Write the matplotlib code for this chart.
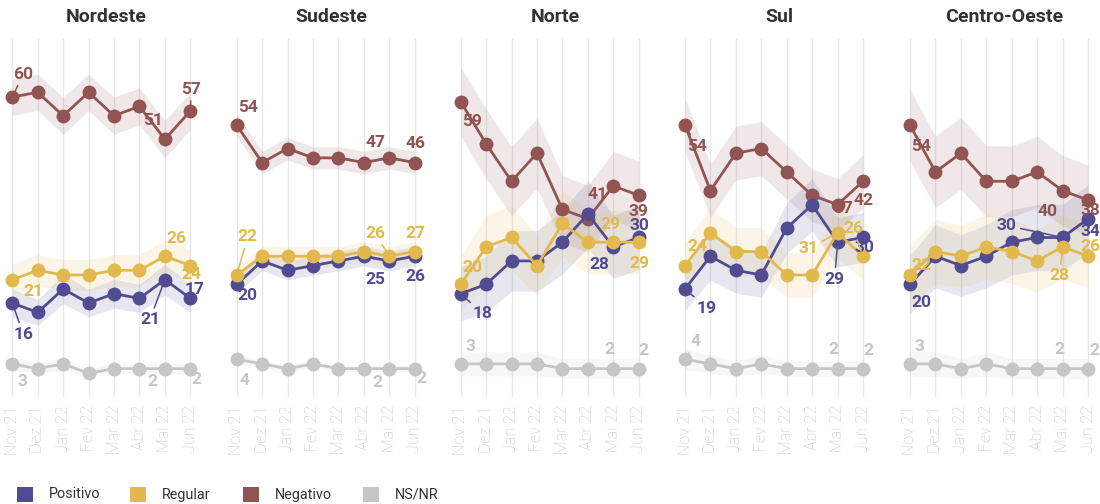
import numpy as np
import matplotlib
matplotlib.use("Agg")
import matplotlib.pyplot as plt
from matplotlib.patches import Rectangle

# ---------------- data ----------------
months = ["Nov 21", "Dez 21", "Jan 22", "Fev 22", "Mar 22", "Abr 22", "Mai 22", "Jun 22"]
regions = ["Nordeste", "Sudeste", "Norte", "Sul", "Centro-Oeste"]
series_names = ["Positivo", "Regular", "Negativo", "NS/NR"]

positivo = {
    "Nordeste":     [16, 14, 19, 16, 18, 17, 21, 17],
    "Sudeste":      [20, 25, 23, 24, 25, 26, 25, 26],
    "Norte":        [18, 20, 25, 25, 29, 35, 28, 30],
    "Sul":          [19, 26, 23, 22, 32, 37, 29, 30],
    "Centro-Oeste": [20, 26, 24, 26, 29, 30, 30, 34],
}
regular = {
    "Nordeste":     [21, 23, 22, 22, 23, 23, 26, 24],
    "Sudeste":      [22, 26, 26, 26, 26, 27, 26, 27],
    "Norte":        [20, 28, 30, 24, 33, 29, 29, 29],
    "Sul":          [24, 31, 27, 27, 22, 22, 31, 26],
    "Centro-Oeste": [22, 27, 26, 28, 27, 25, 28, 26],
}
negativo = {
    "Nordeste":     [60, 61, 56, 61, 56, 58, 51, 57],
    "Sudeste":      [54, 46, 49, 47, 47, 46, 47, 46],
    "Norte":        [59, 50, 42, 48, 36, 34, 41, 39],
    "Sul":          [54, 40, 48, 49, 44, 39, 37, 42],
    "Centro-Oeste": [54, 44, 48, 42, 42, 44, 40, 38],
}
nsnr = {
    "Nordeste":     [3, 2, 3, 1, 2, 2, 2, 2],
    "Sudeste":      [4, 3, 2, 3, 2, 2, 2, 2],
    "Norte":        [3, 3, 3, 3, 2, 2, 2, 2],
    "Sul":          [4, 3, 2, 3, 2, 2, 2, 2],
    "Centro-Oeste": [3, 3, 2, 3, 2, 2, 2, 2],
}
# margin of error (percentage points, at p = 50%) per region
margin_of_error = {"Nordeste": 4.0, "Sudeste": 2.4, "Norte": 7.5, "Sul": 5.8, "Centro-Oeste": 7.7}
labelled_points = [0, 6, 7]

# ---------------- styles ----------------
colors = {"Positivo": "#514b91", "Regular": "#e2b94f", "Negativo": "#925452", "NS/NR": "#c6c6c6"}
data_by_series = {"Positivo": positivo, "Regular": regular, "Negativo": negativo, "NS/NR": nsnr}
zorders = {"NS/NR": 3, "Negativo": 4, "Positivo": 5, "Regular": 6}

# label offsets in pixels (dx right, dy down) and leader-line flag, for points 0, 6, 7
label_offsets = {
    "Nordeste": {
        "Positivo": [(11, 31, True), (-15, 40, True), (4, -9, False)],
        "Regular":  [(21, 12, False), (11, -18, False), (1, 9, False)],
        "Negativo": [(11, -23, True), (-12, -19, False), (1, -22, True)],
        "NS/NR":    [(10, 18, False), (-13, 13, False), (6, 11, False)],
    },
    "Sudeste": {
        "Positivo": [(11, 11, False), (-14, 19, False), (1, 20, False)],
        "Regular":  [(11, -38, True), (-14, -23, True), (1, -18, False)],
        "Negativo": [(11, -18, False), (-14, -15, False), (1, -19, False)],
        "NS/NR":    [(8, 21, False), (-12, 14, False), (7, 10, False)],
    },
    "Norte": {
        "Positivo": [(22, 20, True), (-14, 18, False), (1, -12, False)],
        "Regular":  [(12, -17, False), (-3, -18, False), (1, 21, False)],
        "Negativo": [(11, 20, False), (-16, 9, False), (0, 16, False)],
        "NS/NR":    [(10, -17, False), (-4, -19, False), (5, -18, False)],
    },
    "Sul": {
        "Positivo": [(22, 19, True), (-3, 37, True), (1, 10, False)],
        "Regular":  [(12, -19, False), (-29, 16, True), (-10, -28, True)],
        "Negativo": [(12, 21, True), (6, 4, False), (1, 19, False)],
        "NS/NR":    [(11, -18, True), (-4, -19, False), (5, -18, False)],
    },
    "Centro-Oeste": {
        "Positivo": [(11, 18, False), (-56, -12, True), (2, 13, False)],
        "Regular":  [(11, -9, False), (-3, 29, True), (2, -10, False)],
        "Negativo": [(11, 21, False), (-15, 21, False), (2, 10, False)],
        "NS/NR":    [(9, -17, False), (-3, -19, False), (6, -18, False)],
    },
}

plt.rcParams["font.family"] = ["Roboto", "DejaVu Sans"]

W, H = 1100, 504
fig = plt.figure(figsize=(W / 100, H / 100), dpi=100)

unit_px = 25.43
first_px = [12.3, 236.7, 460.7, 685.0, 910.0]
x_lo, x_hi = -0.315, 7.8
ax_top_px, ax_bot_px = 38, 397
y_lo, y_hi = -4.06, 72.6
px2pt = 0.72

x = np.arange(len(months))
for i, reg in enumerate(regions):
    left_px = first_px[i] + x_lo * unit_px
    width_px = (x_hi - x_lo) * unit_px
    ax = fig.add_axes([left_px / W, 1 - ax_bot_px / H, width_px / W, (ax_bot_px - ax_top_px) / H])
    ax.set_xlim(x_lo, x_hi)
    ax.set_ylim(y_lo, y_hi)
    for s in ax.spines.values():
        s.set_visible(False)
    ax.set_yticks([])
    ax.set_xticks(x)
    ax.set_xticklabels(months, rotation=90, fontsize=11.5, color="#c4c4c4", fontweight="light")
    ax.tick_params(axis="x", length=0, pad=6)
    ax.grid(axis="x", color="#e8e8e8", lw=1)
    ax.set_axisbelow(True)

    moe = margin_of_error[reg]
    for name in ["NS/NR", "Negativo", "Positivo", "Regular"]:
        vals = np.array(data_by_series[name][reg], dtype=float)
        p = vals / 100.0
        half = moe * np.sqrt(p * (1 - p)) / 0.5
        c = colors[name]
        z = zorders[name]
        ax.fill_between(x, vals - half, vals + half, color=c, alpha=0.13, lw=0, zorder=1)
        ax.plot(x, vals, color=c, lw=2, marker="o", ms=9, zorder=z)
        for k, idx in enumerate(labelled_points):
            dx, dy, line = label_offsets[reg][name][k]
            kw = {}
            if line:
                kw["arrowprops"] = dict(arrowstyle="-", color=c, lw=1.1, shrinkA=1, shrinkB=4)
            ax.annotate(str(int(vals[idx])), xy=(idx, vals[idx]),
                        xytext=(dx * px2pt, -dy * px2pt), textcoords="offset points",
                        ha="center", va="center", fontsize=12.5, fontweight="bold",
                        color=c, zorder=10, annotation_clip=False, **kw)

    fig.text((left_px + width_px / 2 - 1) / W, 1 - 17 / H, reg, ha="center", va="center",
             fontsize=14, fontweight="bold", color="#333333")

# legend
legend_sq_x = [17, 130, 243, 363]
for name, sx in zip(series_names, legend_sq_x):
    fig.add_artist(Rectangle((sx / W, 1 - 502 / H), 16 / W, 15 / H,
                             transform=fig.transFigure, color=colors[name], lw=0))
    fig.text((sx + 32) / W, 1 - 494.5 / H, name, ha="left", va="center",
             fontsize=10.4, color="#333333")

fig.savefig("out.png", dpi=100)
